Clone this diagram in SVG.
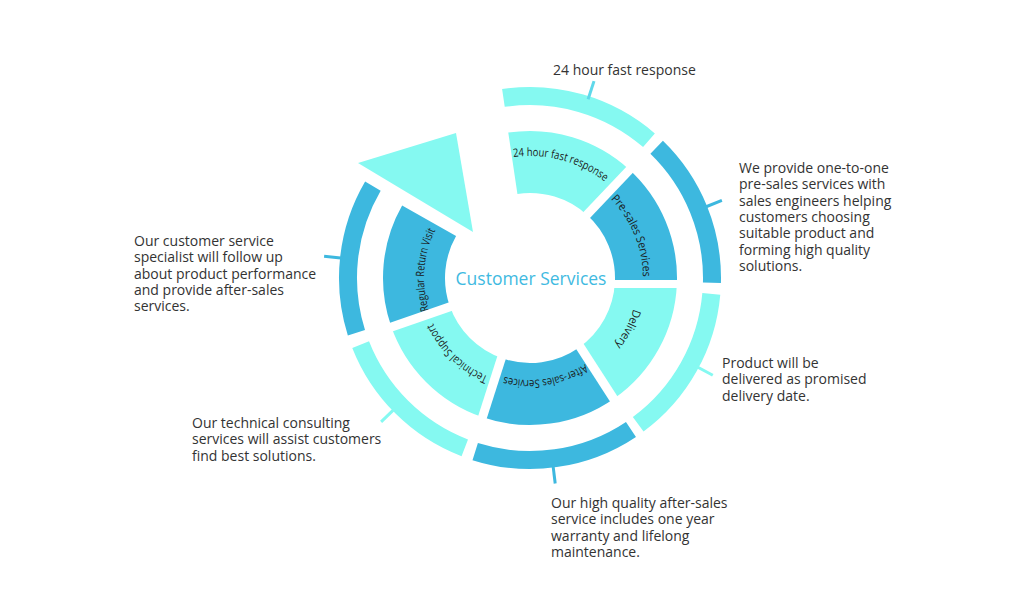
<svg xmlns="http://www.w3.org/2000/svg" width="1024" height="611" viewBox="0 0 1024 611">
<style>
.lt{fill:none;stroke:#85F9F1}
.dk{fill:none;stroke:#3DB8DF}
.inner{stroke-width:62}
.outer{stroke-width:18}
.lab{font-family:"Open Sans","Liberation Sans",sans-serif;font-size:11.5px;fill:#1a1a1a}
.desc{font-family:"Open Sans","Liberation Sans",sans-serif;font-size:14px;fill:#333}
.gap{stroke:#fff;stroke-width:9;fill:none}
.tick{stroke-width:3;fill:none}
</style>
<defs>
<path id="p24" d="M478.44,167.43 A122,122 0 0 1 629.94,208.02"/>
<path id="ppre" d="M582.17,177.77 A113,113 0 0 1 637.77,311.98"/>
<path id="pdel" d="M635.44,254.63 A108,108 0 0 1 571.33,377.78"/>
<path id="paft" d="M606.98,344.92 A102,102 0 0 1 477.47,365.43"/>
<path id="ptec" d="M522.54,384.74 A107,107 0 0 1 423.59,289.18"/>
<path id="preg" d="M443.71,339.55 A106,106 0 0 1 454.39,203.70"/>
</defs>
<rect width="1024" height="611" fill="#fff"/>

<g id="arrow">
<polygon points="456,133 358,163 473,232" fill="#85F9F1"/>
</g>

<g id="seg-24h">
<circle class="lt inner" cx="530" cy="278" r="116" stroke-dasharray="102.24 800" transform="rotate(261.5 530 278)"/>
<text class="lab"><textPath href="#p24" startOffset="50%" text-anchor="middle" textLength="97" lengthAdjust="spacingAndGlyphs">24 hour fast response</textPath></text>
</g>
<g id="seg-presales">
<circle class="dk inner" cx="530" cy="278" r="116" stroke-dasharray="102.24 800" transform="rotate(-48 530 278)"/>
<text class="lab"><textPath href="#ppre" startOffset="50%" text-anchor="middle" textLength="86" lengthAdjust="spacingAndGlyphs">Pre-sales Services</textPath></text>
</g>
<g id="seg-delivery">
<circle class="lt inner" cx="530" cy="278" r="116" stroke-dasharray="106.29 800" transform="rotate(2.5 530 278)"/>
<text class="lab"><textPath href="#pdel" startOffset="50%" text-anchor="middle" textLength="41" lengthAdjust="spacingAndGlyphs">Delivery</textPath></text>
</g>
<g id="seg-aftersales">
<circle class="dk inner" cx="530" cy="278" r="116" stroke-dasharray="109.33 800" transform="rotate(55 530 278)"/>
<text class="lab"><textPath href="#paft" startOffset="50%" text-anchor="middle" textLength="84" lengthAdjust="spacingAndGlyphs">After-sales Services</textPath></text>
</g>
<g id="seg-technical">
<circle class="lt inner" cx="530" cy="278" r="116" stroke-dasharray="105.28 800" transform="rotate(109 530 278)"/>
<text class="lab"><textPath href="#ptec" startOffset="50%" text-anchor="middle" textLength="78" lengthAdjust="spacingAndGlyphs">Technical Support</textPath></text>
</g>
<g id="seg-regular">
<circle class="dk inner" cx="530" cy="278" r="116" stroke-dasharray="98.19 800" transform="rotate(161 530 278)"/>
<text class="lab"><textPath href="#preg" startOffset="50%" text-anchor="middle" textLength="82" lengthAdjust="spacingAndGlyphs">Regular Return Visit</textPath></text>
</g>

<g id="gaps">
<line class="gap" x1="637" y1="162" x2="581" y2="221"/>
<line class="gap" x1="611" y1="284" x2="686" y2="284" style="stroke-width:8"/>
<line class="gap" x1="617" y1="404" x2="577" y2="342"/>
<line class="gap" x1="479" y1="428" x2="504" y2="350"/>
<line class="gap" x1="380" y1="331" x2="458" y2="304"/>
</g>

<g id="center">
<text x="531" y="285" text-anchor="middle" font-family="'Open Sans','Liberation Sans',sans-serif" font-size="17.5" fill="#3FBAE1">Customer Services</text>
</g>

<g id="outer-top">
<circle class="lt outer" cx="530" cy="278" r="182" stroke-dasharray="156.28 1200" transform="rotate(-98.4 530 278)"/>
<text class="desc" x="553" y="75">24 hour fast response</text>
</g>
<g id="outer-presales">
<circle class="dk outer" cx="530" cy="278" r="182" stroke-dasharray="150.57 1200" transform="rotate(-45.9 530 278)"/>
<text class="desc" x="739" y="173"><tspan x="739">We provide one-to-one</tspan><tspan x="739" dy="16.3">pre-sales services with</tspan><tspan x="739" dy="16.3">sales engineers helping</tspan><tspan x="739" dy="16.3">customers choosing</tspan><tspan x="739" dy="16.3">suitable product and</tspan><tspan x="739" dy="16.3">forming high quality</tspan><tspan x="739" dy="16.3">solutions.</tspan></text>
</g>
<g id="outer-delivery">
<circle class="lt outer" cx="530" cy="278" r="182" stroke-dasharray="154.06 1200" transform="rotate(5 530 278)"/>
<text class="desc" x="722" y="368"><tspan x="722">Product will be</tspan><tspan x="722" dy="16.3">delivered as promised</tspan><tspan x="722" dy="16.3">delivery date.</tspan></text>
</g>
<g id="outer-aftersales">
<circle class="dk outer" cx="530" cy="278" r="182" stroke-dasharray="162.64 1200" transform="rotate(56.3 530 278)"/>
<text class="desc" x="551" y="508"><tspan x="551">Our high quality after-sales</tspan><tspan x="551" dy="16.3">service includes one year</tspan><tspan x="551" dy="16.3">warranty and lifelong</tspan><tspan x="551" dy="16.3">maintenance.</tspan></text>
</g>
<g id="outer-technical">
<circle class="lt outer" cx="530" cy="278" r="182" stroke-dasharray="150.88 1200" transform="rotate(111 530 278)"/>
<text class="desc" x="192" y="428"><tspan x="192">Our technical consulting</tspan><tspan x="192" dy="16.3">services will assist customers</tspan><tspan x="192" dy="16.3">find best solutions.</tspan></text>
</g>
<g id="outer-regular">
<circle class="dk outer" cx="530" cy="278" r="182" stroke-dasharray="151.84 1200" transform="rotate(162.5 530 278)"/>
<text class="desc" x="134" y="246"><tspan x="134">Our customer service</tspan><tspan x="134" dy="16.3">specialist will follow up</tspan><tspan x="134" dy="16.3">about product performance</tspan><tspan x="134" dy="16.3">and provide after-sales</tspan><tspan x="134" dy="16.3">services.</tspan></text>
</g>

<g id="connectors">
<line class="tick" x1="588.1" y1="99.2" x2="594.0" y2="81.1" stroke="#5FD8EA"/>
<line class="tick" x1="704.3" y1="207.5" x2="721.9" y2="200.4" stroke="#3DB8DF"/>
<line class="tick" x1="696.0" y1="366.2" x2="712.8" y2="375.2" stroke="#85F9F1"/>
<line class="tick" x1="552.9" y1="464.6" x2="555.2" y2="483.5" stroke="#3DB8DF"/>
<line class="tick" x1="394.8" y1="408.7" x2="381.1" y2="421.8" stroke="#85F9F1"/>
<line class="tick" x1="343.0" y1="258.3" x2="324.1" y2="256.3" stroke="#3DB8DF"/>
</g>
</svg>
